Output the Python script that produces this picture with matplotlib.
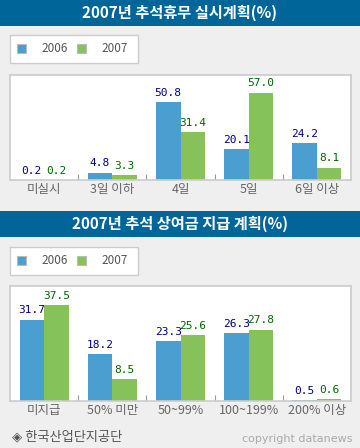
import matplotlib
matplotlib.use('Agg')
import matplotlib.pyplot as plt
from matplotlib.patches import Rectangle

plt.rcParams['font.family'] = ['Noto Sans CJK KR', 'DejaVu Sans']

# chart 1 data
title1 = '2007년 추석휴무 실시계획(%)'
cats1 = ['미실시', '3일 이하', '4일', '5일', '6일 이상']
v2006_1 = [0.2, 4.8, 50.8, 20.1, 24.2]
v2007_1 = [0.2, 3.3, 31.4, 57.0, 8.1]

# chart 2 data
title2 = '2007년 추석 상여금 지급 계획(%)'
cats2 = ['미지급', '50% 미만', '50~99%', '100~199%', '200% 이상']
v2006_2 = [31.7, 18.2, 23.3, 26.3, 0.5]
v2007_2 = [37.5, 8.5, 25.6, 27.8, 0.6]

series = ['2006', '2007']

BLUE = '#4a9fd0'
GREEN = '#86c25a'
BAR_BG = '#006699'
BG = '#efefef'

W, H = 360, 448
fig = plt.figure(figsize=(W / 100, H / 100), dpi=100)
fig.patch.set_facecolor(BG)


def fr(x, y, w, h):
    # pixel box (top-left origin) -> figure fraction
    return [x / W, 1 - (y + h) / H, w / W, h / H]


def title_bar(y, text):
    x0, y0, w, h = fr(0, y, W, 26)
    fig.patches.append(Rectangle((x0, y0), w, h, transform=fig.transFigure,
                                 facecolor=BAR_BG, edgecolor='none'))
    fig.text(0.5, y0 + h / 2, text, color='white', fontsize=11,
             fontweight='bold', ha='center', va='center')


def legend_box(y):
    x0, y0, w, h = fr(10, y, 128, 28)
    fig.patches.append(Rectangle((x0, y0), w, h, transform=fig.transFigure,
                                 facecolor='white', edgecolor='#cccccc', lw=1))
    yc = y0 + h / 2
    for i, (name, c) in enumerate(zip(series, [BLUE, GREEN])):
        sx = 17 + i * 60
        bx, by, bw, bh = fr(sx, y + 9, 9, 9)
        fig.patches.append(Rectangle((bx, by), bw, bh, transform=fig.transFigure,
                                     facecolor=c, edgecolor='#bbbbbb', lw=0.8))
        fig.text((sx + 24) / W, yc, name, color='#555555', fontsize=8.5,
                 ha='left', va='center')


def bar_chart(y, h, cats, a, b, ymax):
    ax = fig.add_axes(fr(10, y, 341, h))
    ax.set_facecolor('white')
    x = range(len(cats))
    bw = 0.36
    ax.bar([i - bw / 2 for i in x], a, width=bw, color=BLUE)
    ax.bar([i + bw / 2 for i in x], b, width=bw, color=GREEN)
    for i in x:
        ax.annotate(f'{a[i]:.1f}', (i - bw / 2, a[i]), xytext=(0, 3),
                    textcoords='offset points', ha='center', va='bottom',
                    color='#000080', fontsize=8, family='DejaVu Sans Mono')
        ax.annotate(f'{b[i]:.1f}', (i + bw / 2, b[i]), xytext=(0, 3),
                    textcoords='offset points', ha='center', va='bottom',
                    color='#006600', fontsize=8, family='DejaVu Sans Mono')
    ax.set_xlim(-0.5, len(cats) - 0.5)
    ax.set_ylim(0, ymax)
    ax.set_yticks([])
    ax.set_xticks(list(x))
    ax.set_xticklabels(cats, color='#666666', fontsize=9)
    ax.set_xticks([i + 0.5 for i in range(len(cats) - 1)], minor=True)
    ax.tick_params(axis='x', which='major', length=0, pad=2.5)
    ax.tick_params(axis='x', which='minor', direction='in', length=4,
                   color='#999999', width=0.8)
    for s in ax.spines.values():
        s.set_color('#cccccc')
        s.set_linewidth(1.2)
    return ax


title_bar(0, title1)
legend_box(35)
bar_chart(75, 105, cats1, v2006_1, v2007_1, 68.5)

title_bar(211, title2)
legend_box(247)
bar_chart(286, 115, cats2, v2006_2, v2007_2, 44.8)

fig.text(12 / W, 1 - 437 / H, '◈ 한국산업단지공단', color='#555555',
         fontsize=9.5, ha='left', va='center')
fig.text(352 / W, 1 - 439 / H, 'copyright datanews', color='#aaaaaa',
         fontsize=8, family='DejaVu Sans', ha='right', va='center')

fig.savefig('out.png', dpi=100, facecolor=BG)
